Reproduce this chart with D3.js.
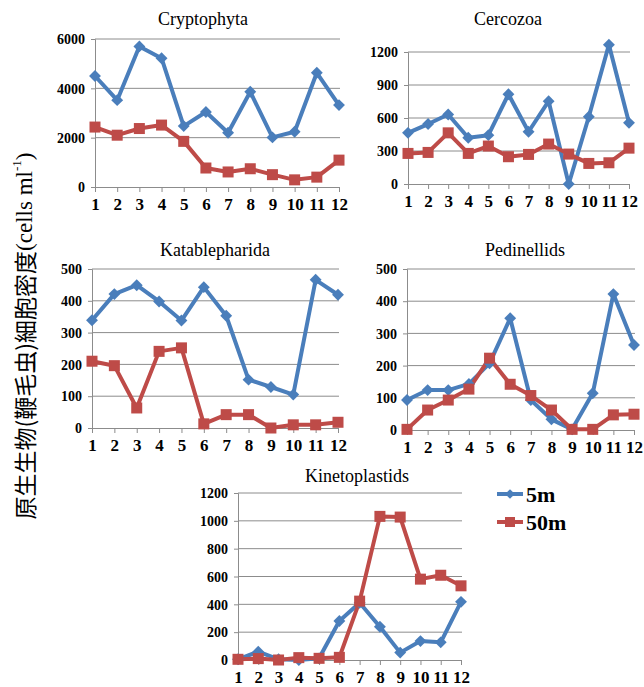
<!DOCTYPE html>
<html>
<head>
<meta charset="utf-8">
<script src="https://cdn.jsdelivr.net/npm/d3@7"></script>
<style>
  body { margin: 0; background: #fff; }
  .serif { font-family: "Liberation Serif", "Times New Roman", "DejaVu Serif", serif; }
  .tick text { font-family: "Liberation Serif", "Times New Roman", "DejaVu Serif", serif; font-weight: bold; fill: #000; }
</style>
</head>
<body>
<div id="chart"></div>
<script>
// months on the x axis
const months = [1, 2, 3, 4, 5, 6, 7, 8, 9, 10, 11, 12];
const seriesNames = ["5m", "50m"];

// values (cells ml-1)
const cryptophyta5m  = [4500, 3520, 5700, 5220, 2470, 3040, 2200, 3860, 2010, 2240, 4630, 3320];
const cryptophyta50m = [2430, 2100, 2370, 2510, 1850, 770, 610, 740, 500, 290, 400, 1090];
const cercozoa5m  = [465, 545, 632, 420, 444, 816, 475, 753, 0, 611, 1266, 556];
const cercozoa50m = [278, 287, 465, 278, 345, 248, 269, 363, 272, 187, 193, 326];
const katablepharida5m  = [339, 421, 449, 398, 338, 443, 353, 152, 129, 105, 466, 419];
const katablepharida50m = [210, 196, 63, 241, 252, 13, 42, 42, 0, 10, 10, 18];
const pedinellids5m  = [93, 124, 124, 143, 207, 347, 93, 33, 2, 114, 422, 264];
const pedinellids50m = [2, 62, 93, 127, 223, 142, 107, 62, 2, 2, 47, 49];
const kinetoplastids5m  = [5, 60, 5, 0, 12, 280, 411, 239, 53, 136, 127, 418];
const kinetoplastids50m = [5, 10, 0, 17, 12, 19, 423, 1032, 1027, 581, 609, 533];

const colors = { "5m": "#4A7EBB", "50m": "#BE4B48" };

let svg = d3.select("#chart")
    .append("svg")
    .attr("width", 644)
    .attr("height", 687);

// panel layout (pixel boxes of each small chart)
let panels = [
    { title: "Cryptophyta", s5: cryptophyta5m, s50: cryptophyta50m, ticks: [0, 2000, 4000, 6000],
      x0: 95, x1: 339, yTop: 39, yBot: 187, titleX: 203, titleY: 25 },
    { title: "Cercozoa", s5: cercozoa5m, s50: cercozoa50m, ticks: [0, 300, 600, 900, 1200],
      x0: 408, x1: 629, yTop: 52, yBot: 184, titleX: 508, titleY: 25 },
    { title: "Katablepharida", s5: katablepharida5m, s50: katablepharida50m, ticks: [0, 100, 200, 300, 400, 500],
      x0: 92, x1: 338, yTop: 269, yBot: 428, titleX: 215, titleY: 256 },
    { title: "Pedinellids", s5: pedinellids5m, s50: pedinellids50m, ticks: [0, 100, 200, 300, 400, 500],
      x0: 407, x1: 634, yTop: 269, yBot: 430, titleX: 525, titleY: 256 },
    { title: "Kinetoplastids", s5: kinetoplastids5m, s50: kinetoplastids50m, ticks: [0, 200, 400, 600, 800, 1000, 1200],
      x0: 238, x1: 461, yTop: 493, yBot: 660, titleX: 357, titleY: 482 }
];

panels.forEach(p => {
    let g = svg.append("g");

    let x = d3.scalePoint()
        .domain(months)
        .range([p.x0, p.x1]);
    let y = d3.scaleLinear()
        .domain([0, d3.max(p.ticks)])
        .range([p.yBot, p.yTop]);

    // gridlines
    g.selectAll(".grid")
        .data(p.ticks.slice(1))
        .enter()
        .append("line")
        .attr("x1", p.x0)
        .attr("x2", p.x1 + 1)
        .attr("y1", d => y(d))
        .attr("y2", d => y(d))
        .attr("stroke", "#8c8c8c")
        .attr("stroke-width", 1);

    // y axis
    let leftAxis = d3.axisLeft(y).tickValues(p.ticks).tickFormat(d3.format("d")).tickSize(4).tickPadding(6);
    let ya = g.append("g")
        .attr("transform", `translate(${p.x0},0)`)
        .call(leftAxis);
    ya.attr("font-family", null);
    ya.select(".domain").attr("stroke", "#8c8c8c");
    ya.selectAll(".tick line").attr("stroke", "#8c8c8c");
    ya.selectAll(".tick text").attr("font-size", "14px").attr("dy", "0.34em");

    // x axis
    let bottomAxis = d3.axisBottom(x).tickSize(5).tickPadding(6);
    let xa = g.append("g")
        .attr("transform", `translate(0,${p.yBot})`)
        .call(bottomAxis);
    xa.attr("font-family", null);
    xa.select(".domain").attr("stroke", "#8c8c8c");
    xa.selectAll(".tick line").attr("stroke", "#8c8c8c");
    xa.selectAll(".tick text").attr("font-size", "17px");

    // title
    g.append("text")
        .attr("class", "serif")
        .attr("x", p.titleX)
        .attr("y", p.titleY)
        .attr("text-anchor", "middle")
        .attr("font-size", "18px")
        .text(p.title);

    let line = d3.line()
        .x((d, i) => x(months[i]))
        .y(d => y(d));

    // lines
    [["5m", p.s5], ["50m", p.s50]].forEach(([name, vals]) => {
        g.append("path")
            .datum(vals)
            .attr("d", line)
            .attr("fill", "none")
            .attr("stroke", colors[name])
            .attr("stroke-width", 4)
            .attr("stroke-linejoin", "round");
    });

    // 5m markers: diamonds
    g.selectAll(".dia")
        .data(p.s5)
        .enter()
        .append("path")
        .attr("d", d3.symbol(d3.symbolDiamond2, 90)())
        .attr("transform", (d, i) => `translate(${x(months[i])},${y(d)})`)
        .attr("fill", colors["5m"]);

    // 50m markers: squares
    g.selectAll(".sq")
        .data(p.s50)
        .enter()
        .append("rect")
        .attr("x", (d, i) => x(months[i]) - 5.5)
        .attr("y", d => y(d) - 5.5)
        .attr("width", 11)
        .attr("height", 11)
        .attr("fill", colors["50m"]);
});

// legend
let legend = svg.append("g");
seriesNames.forEach((name, i) => {
    let ly = 494 + i * 28;
    legend.append("line")
        .attr("x1", 497).attr("x2", 523)
        .attr("y1", ly).attr("y2", ly)
        .attr("stroke", colors[name])
        .attr("stroke-width", 4);
    if (name === "5m") {
        legend.append("path")
            .attr("d", d3.symbol(d3.symbolDiamond2, 60)())
            .attr("transform", `translate(510,${ly})`)
            .attr("fill", colors[name]);
    } else {
        legend.append("rect")
            .attr("x", 505).attr("y", ly - 5)
            .attr("width", 10).attr("height", 10)
            .attr("fill", colors[name]);
    }
    legend.append("text")
        .attr("class", "serif")
        .attr("x", 526)
        .attr("y", ly + 8)
        .attr("font-weight", "bold")
        .attr("font-size", "22px")
        .text(name);
});

// y-axis title
let yTitle = svg.append("text")
    .attr("transform", "translate(24,336) rotate(-90)")
    .attr("text-anchor", "middle")
    .attr("dominant-baseline", "central")
    .attr("font-size", "23px");
yTitle.append("tspan")
    .attr("font-family", "Noto Sans CJK JP, sans-serif")
    .text("原生生物(鞭毛虫)細胞密度");
yTitle.append("tspan")
    .attr("class", "serif")
    .text("(cells ml");
yTitle.append("tspan")
    .attr("class", "serif")
    .attr("font-size", "13px")
    .attr("dy", "-8")
    .text("-1");
yTitle.append("tspan")
    .attr("class", "serif")
    .attr("dy", "8")
    .text(")");
</script>
</body>
</html>
